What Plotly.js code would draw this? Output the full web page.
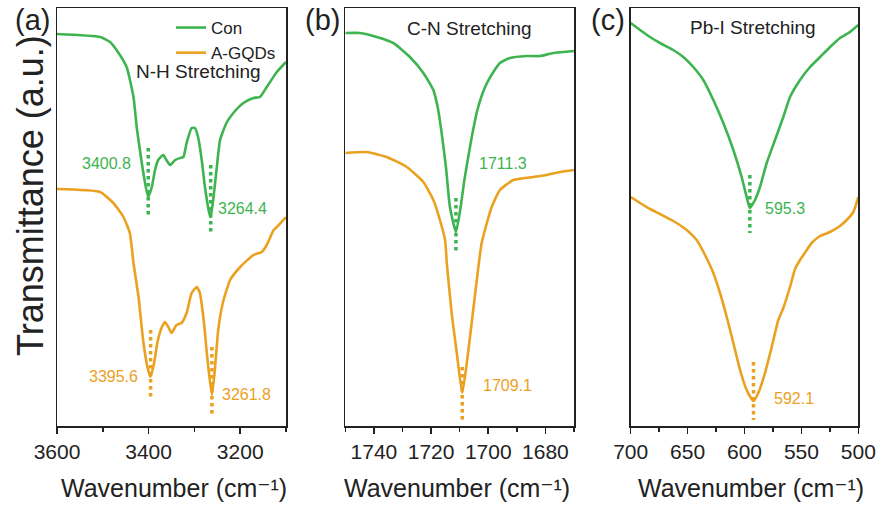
<!DOCTYPE html>
<html>
<head>
<meta charset="utf-8">
<script src="https://cdn.plot.ly/plotly-3.0.1.min.js"></script>
<style>html,body{margin:0;padding:0;background:#fff;}#chart{width:879px;height:506px;}</style>
</head>
<body>
<div id="chart"></div>
<script>
// ---- Data (wavenumber in cm^-1, transmittance in arbitrary units) ----
const seriesNames = ["Con", "A-GQDs"];
const colors = {con: "#3db44f", gqd: "#eaa11f"};

// Panel (a): N-H stretching
const aConX = [3600,3506,3484,3470,3448,3433,3426,3419,3410,3401,3393,3386,3379,3368,3361,3353,3342,3331,3324,3317,3306,3299,3292,3284,3277,3267,3264.4,3259,3251,3244,3230,3215,3193,3171,3157,3142,3120,3100];
const aConY = [3.92,3.89,3.84,3.76,3.59,3.29,2.99,2.76,2.49,2.29,2.39,2.56,2.66,2.71,2.66,2.61,2.66,2.68,2.69,2.83,2.98,2.98,2.89,2.66,2.39,2.12,2.09,2.26,2.59,2.86,3.03,3.13,3.23,3.28,3.29,3.39,3.54,3.64];
const aGqdX = [3600,3506,3477,3455,3441,3433,3422,3412,3403,3396,3388,3381,3371,3364,3357,3350,3339,3328,3317,3306,3295,3288,3279,3272,3262,3256,3248,3238,3222,3200,3171,3153,3142,3127,3120,3100];
const aGqdY = [2.37,2.34,2.23,2.09,1.93,1.63,1.29,0.86,0.60,0.49,0.63,0.83,0.99,1.04,0.99,0.93,1.01,1.03,1.13,1.33,1.39,1.33,1.03,0.69,0.31,0.53,0.96,1.23,1.46,1.59,1.71,1.74,1.81,1.96,1.99,2.09];

// Panel (b): C-N stretching
const bConX = [1750,1744.9,1739.0,1733.2,1727.4,1722.7,1719.2,1717.5,1716.3,1714.8,1713.4,1711.3,1709.6,1708.4,1707.0,1705.5,1703.8,1701.1,1698.2,1695.9,1692.4,1686.6,1681.9,1677.2,1670];
const bConY = [3.93,3.93,3.89,3.83,3.69,3.53,3.36,3.16,2.93,2.59,2.19,1.94,2.20,2.45,2.69,2.93,3.16,3.39,3.54,3.63,3.68,3.70,3.70,3.73,3.75];
const bGqdX = [1750,1742.5,1735.5,1728.5,1722.7,1719.2,1716.9,1715.1,1714.5,1712.8,1711.0,1709.1,1707.5,1705.8,1704.0,1702.3,1698.8,1695.9,1691.2,1684.2,1679.6,1674.9,1670];
const bGqdY = [2.73,2.74,2.69,2.59,2.44,2.26,2.06,1.86,1.63,1.13,0.73,0.33,0.63,1.03,1.46,1.83,2.19,2.36,2.46,2.49,2.51,2.54,2.56];

// Panel (c): Pb-I stretching
const cConX = [700,691.8,683.0,674.3,662.6,653.8,645.0,636.2,627.4,618.6,609.8,602.5,598.1,595.3,590.8,586.4,580.5,573.2,565.9,560.0,551.2,542.4,533.6,524.8,516.1,507.3,500];
const cConY = [4.03,3.96,3.89,3.83,3.76,3.69,3.59,3.46,3.26,3.03,2.76,2.49,2.29,2.18,2.26,2.39,2.63,2.86,3.09,3.29,3.46,3.59,3.69,3.79,3.88,3.94,4.01];
const cGqdX = [700,691.8,683.0,674.3,662.6,650.8,642.0,634.7,627.4,621.5,615.6,609.8,603.9,598.1,592.1,587.9,582.0,576.1,570.3,565.9,560.0,555.6,551.2,545.3,541.0,533.6,524.8,516.1,510.2,504.4,500];
const cGqdY = [2.29,2.23,2.17,2.12,2.05,1.96,1.86,1.71,1.53,1.33,1.09,0.83,0.56,0.36,0.25,0.33,0.53,0.79,1.06,1.18,1.39,1.57,1.66,1.76,1.83,1.90,1.94,2.00,2.06,2.14,2.29];

// Peak positions and dotted marker extents
const peaksCon = {a: [3400.8, 3264.4], b: [1711.3], c: [595.3]};
const peaksGqd = {a: [3395.6, 3261.8], b: [1709.1], c: [592.1]};
const markConA = [[2.78, 2.08], [2.61, 1.91]];
const markGqdA = [[0.96, 0.26], [0.79, 0.09]];
const markConB = [2.28, 1.74];
const markGqdB = [0.59, 0.06];
const markConC = [2.51, 1.93];
const markGqdC = [0.64, 0.06];

// Tick definitions
const ticksA = [3600, 3400, 3200];
const ticksB = [1740, 1720, 1700, 1680];
const ticksC = [700, 650, 600, 550, 500];

// ---- Build traces ----
const lw = 2.6;
function curve(x, y, col, xa, ya, name, show) {
  return {x: x, y: y, type: "scatter", mode: "lines", name: name, showlegend: show,
          line: {color: col, width: lw, shape: "spline", smoothing: 0.5}, xaxis: xa, yaxis: ya, hoverinfo: "skip"};
}
function dotted(px, ys, col, xa, ya) {
  return {x: [px, px], y: ys, type: "scatter", mode: "lines", showlegend: false,
          line: {color: col, width: 3.5, dash: "dot"}, xaxis: xa, yaxis: ya, hoverinfo: "skip"};
}
const traces = [
  curve(aConX, aConY, colors.con, "x", "y", seriesNames[0], true),
  curve(aGqdX, aGqdY, colors.gqd, "x", "y", seriesNames[1], true),
  curve(bConX, bConY, colors.con, "x2", "y2", seriesNames[0], false),
  curve(bGqdX, bGqdY, colors.gqd, "x2", "y2", seriesNames[1], false),
  curve(cConX, cConY, colors.con, "x3", "y3", seriesNames[0], false),
  curve(cGqdX, cGqdY, colors.gqd, "x3", "y3", seriesNames[1], false),
  dotted(peaksCon.a[0], markConA[0], colors.con, "x", "y"),
  dotted(peaksCon.a[1], markConA[1], colors.con, "x", "y"),
  dotted(peaksGqd.a[0], markGqdA[0], colors.gqd, "x", "y"),
  dotted(peaksGqd.a[1], markGqdA[1], colors.gqd, "x", "y"),
  dotted(peaksCon.b[0], markConB, colors.con, "x2", "y2"),
  dotted(peaksGqd.b[0], markGqdB, colors.gqd, "x2", "y2"),
  dotted(peaksCon.c[0], markConC, colors.con, "x3", "y3"),
  dotted(peaksGqd.c[0], markGqdC, colors.gqd, "x3", "y3")
];

const FONT = "Liberation Sans, Arial, DejaVu Sans, sans-serif";
const H = 506, W = 879;
const yDom = [(H - 426) / H, (H - 8) / H];
function xax(dom, range, ticks, minorD, yname) {
  return {domain: dom, range: range, anchor: yname, tickmode: "array", tickvals: ticks,
          ticks: "outside", ticklen: 6, tickwidth: 1.5, tickcolor: "#222",
          showline: true, linecolor: "#222", linewidth: 1.5, mirror: true,
          showgrid: false, zeroline: false,
          tickfont: {family: FONT, size: 21, color: "#222"},
          minor: {dtick: minorD, ticks: "outside", ticklen: 4, tickwidth: 1.5, tickcolor: "#222", showgrid: false}};
}
function yax(xname) {
  return {domain: yDom, range: [0, 4.18], anchor: xname, showticklabels: false, ticks: "",
          showline: true, linecolor: "#222", linewidth: 1.5, mirror: true, showgrid: false, zeroline: false};
}

function lbl(text, x, y, xr, yr, col, size) {
  return {text: text, x: x, y: y, xref: xr, yref: yr, showarrow: false, xanchor: "center", yanchor: "middle",
          font: {family: FONT, size: size, color: col}};
}
const xTitle = "Wavenumber (cm\u207B\u00B9)";
const annotations = [
  lbl("3400.8", 3491, 2.63, "x", "y", colors.con, 16),
  lbl("3264.4", 3196, 2.18, "x", "y", colors.con, 16),
  lbl("3395.6", 3476, 0.50, "x", "y", colors.gqd, 16),
  lbl("3261.8", 3187, 0.32, "x", "y", colors.gqd, 16),
  lbl("N-H Stretching", 3292, 3.55, "x", "y", "#222", 19),
  lbl("1711.3", 1694.8, 2.63, "x2", "y2", colors.con, 16),
  lbl("1709.1", 1693.3, 0.41, "x2", "y2", colors.gqd, 16),
  lbl("C-N Stretching", 1706.7, 3.98, "x2", "y2", "#222", 19),
  lbl("595.3", 564.4, 2.18, "x3", "y3", colors.con, 16),
  lbl("592.1", 556.9, 0.28, "x3", "y3", colors.gqd, 16),
  lbl("Pb-I Stretching", 592.5, 3.99, "x3", "y3", "#222", 19),
  lbl("(a)", 32 / W, 1 - 20 / H, "paper", "paper", "#222", 29),
  lbl("(b)", 322 / W, 1 - 20 / H, "paper", "paper", "#222", 29),
  lbl("(c)", 608 / W, 1 - 20 / H, "paper", "paper", "#222", 29),
  lbl(xTitle, 174 / W, 1 - 488 / H, "paper", "paper", "#222", 25),
  lbl(xTitle, 457 / W, 1 - 488 / H, "paper", "paper", "#222", 25),
  lbl(xTitle, 751 / W, 1 - 488 / H, "paper", "paper", "#222", 25),
  Object.assign(lbl("Transmittance (a.u.)", 30 / W, 1 - 196 / H, "paper", "paper", "#222", 36), {textangle: -90})
];

const layout = {
  width: W, height: H, margin: {l: 0, r: 0, t: 0, b: 0},
  paper_bgcolor: "#fff", plot_bgcolor: "#fff",
  font: {family: FONT, color: "#222"},
  xaxis: xax([57 / W, 286 / W], [3600, 3100], ticksA, 100, "y"),
  xaxis2: xax([345.3 / W, 574 / W], [1750, 1670], ticksB, 10, "y2"),
  xaxis3: xax([630.7 / W, 858.3 / W], [700, 500], ticksC, 25, "y3"),
  yaxis: yax("x"), yaxis2: yax("x2"), yaxis3: yax("x3"),
  showlegend: true,
  legend: {x: 171 / W, y: 1 - 10 / H, xanchor: "left", yanchor: "top", bgcolor: "rgba(0,0,0,0)",
           font: {family: FONT, size: 17, color: "#222"}, tracegroupgap: 0},
  annotations: annotations
};

Plotly.newPlot("chart", traces, layout, {staticPlot: true, displayModeBar: false});
</script>
</body>
</html>
